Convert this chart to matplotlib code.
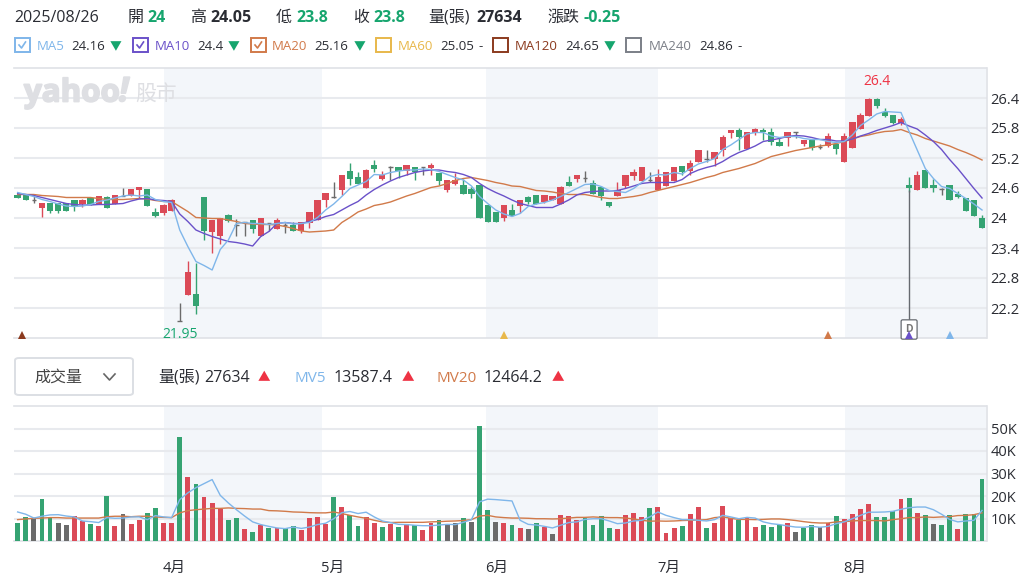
import matplotlib
matplotlib.use("Agg")
from matplotlib import pyplot as plt
from matplotlib import patheffects
from matplotlib.lines import Line2D
from matplotlib.patches import FancyBboxPatch, Rectangle
import numpy as np

FONT = ["Open Sans", "Noto Sans CJK TC", "DejaVu Sans"]
plt.rcParams["font.family"] = FONT

opens = [24.46,24.45,24.36,24.19,24.29,24.29,24.29,24.36,24.28,24.40,24.29,24.41,24.28,24.44,24.44,24.55,24.57,24.12,24.10,24.15,
         21.95,22.47,22.49,24.41,23.71,23.65,24.05,23.86,23.91,23.96,23.65,23.89,23.79,23.85,23.85,23.73,23.89,23.96,24.35,24.41,
         24.55,24.95,24.82,24.59,25.06,24.79,25.01,25.02,24.94,25.01,25.01,25.00,24.90,24.55,24.68,24.65,24.57,24.66,24.25,24.12,
         24.00,24.16,24.23,24.41,24.45,24.33,24.36,24.29,24.71,24.79,24.81,24.69,24.62,24.31,24.45,24.64,24.84,24.73,24.75,24.55,
         24.64,24.73,25.03,24.95,25.13,25.17,25.17,25.35,25.70,25.75,25.37,25.69,25.75,25.71,25.51,25.59,25.71,25.49,25.55,25.41,
         25.45,25.49,25.13,25.39,25.79,26.03,26.37,26.11,26.06,25.89,24.65,24.55,24.95,24.66,24.57,24.65,24.49,24.40,24.35,24.00]
closes = [24.40,24.35,24.36,24.29,24.14,24.14,24.15,24.24,24.36,24.25,24.45,24.19,24.45,24.44,24.57,24.61,24.24,24.03,24.25,24.35,
          21.95,22.91,22.24,23.74,23.96,24.00,23.95,23.86,23.91,23.79,24.00,23.89,23.96,23.85,23.74,23.91,24.11,24.36,24.49,24.41,
          24.86,24.79,24.67,24.95,24.99,24.85,25.01,24.94,25.06,24.91,25.01,25.06,24.73,24.75,24.75,24.48,24.48,24.00,23.91,23.91,
          24.25,24.03,24.36,24.33,24.28,24.45,24.45,24.61,24.64,24.85,24.81,24.49,24.44,24.24,24.56,24.85,24.91,25.01,24.75,24.82,
          24.91,25.01,24.93,25.11,25.36,25.17,25.31,25.61,25.75,25.62,25.72,25.77,25.71,25.51,25.45,25.72,25.71,25.56,25.40,25.41,
          25.65,25.38,25.65,25.91,26.06,26.37,26.23,26.03,25.89,25.97,24.59,24.86,24.59,24.59,24.57,24.35,24.43,24.15,24.03,23.80]
highs = [24.51,24.45,24.49,24.29,24.29,24.29,24.29,24.36,24.37,24.40,24.45,24.45,24.45,24.59,24.57,24.61,24.57,24.20,24.29,24.37,
         22.30,23.15,23.11,24.41,23.96,24.00,24.09,23.99,23.92,23.96,24.00,23.89,24.00,23.89,23.93,23.91,24.11,24.36,24.49,24.71,
         24.86,25.11,24.91,24.99,25.16,24.95,25.03,25.02,25.06,25.01,25.01,25.11,24.90,24.75,24.89,24.79,24.63,24.66,24.25,24.12,
         24.25,24.29,24.36,24.45,24.45,24.45,24.45,24.65,24.84,24.85,24.95,24.75,24.65,24.33,24.71,24.85,24.99,25.01,24.91,24.99,
         24.91,25.01,25.03,25.16,25.36,25.36,25.31,25.66,25.75,25.80,25.72,25.81,25.81,25.80,25.61,25.72,25.71,25.56,25.55,25.49,
         25.69,25.49,25.69,25.91,26.09,26.39,26.40,26.19,26.06,26.01,24.83,24.95,24.95,24.79,24.59,24.65,24.53,24.40,24.35,24.05]
lows = [24.40,24.35,24.31,24.01,24.11,24.11,24.15,24.15,24.22,24.25,24.29,24.19,24.28,24.44,24.44,24.40,24.24,24.01,24.05,24.15,
        21.95,22.46,22.09,23.56,23.31,23.49,23.91,23.65,23.65,23.69,23.65,23.75,23.79,23.69,23.74,23.69,23.81,23.96,24.21,24.39,
        24.47,24.66,24.67,24.59,24.91,24.75,24.75,24.81,24.86,24.76,24.85,24.85,24.66,24.51,24.66,24.48,24.39,24.00,23.91,23.91,
        23.95,24.03,24.11,24.28,24.28,24.31,24.36,24.29,24.64,24.71,24.71,24.48,24.35,24.22,24.45,24.59,24.76,24.73,24.71,24.55,
        24.64,24.73,24.86,24.86,25.13,25.13,25.04,25.24,25.60,25.36,25.37,25.66,25.56,25.46,25.45,25.45,25.61,25.45,25.36,25.37,
        25.41,25.29,25.12,25.39,25.79,26.03,26.19,26.01,25.88,25.86,24.51,24.55,24.59,24.51,24.46,24.35,24.40,24.15,24.03,23.80]

ma5 = [24.51,24.47,24.43,24.37,24.33,24.28,24.24,24.23,24.24,24.27,24.33,24.36,24.40,24.44,24.46,24.44,24.46,24.37,24.33,24.31,
       23.76,23.43,23.13,23.05,22.96,23.37,23.56,23.89,23.91,23.89,23.89,23.87,23.89,23.91,23.88,23.89,23.91,24.01,24.16,24.28,
       24.43,24.59,24.66,24.73,24.87,24.86,24.91,24.94,24.96,24.96,24.98,24.97,24.93,24.87,24.81,24.76,24.64,24.43,24.29,24.16,
       24.08,24.03,24.09,24.23,24.28,24.31,24.36,24.43,24.51,24.59,24.67,24.68,24.63,24.55,24.53,24.51,24.59,24.71,24.83,24.87,
       24.86,24.91,24.88,24.99,25.08,25.13,25.19,25.37,25.46,25.57,25.68,25.71,25.71,25.64,25.61,25.63,25.63,25.59,25.57,25.57,
       25.53,25.51,25.53,25.66,25.85,25.96,26.08,26.13,26.12,26.11,25.73,25.36,24.99,24.79,24.63,24.59,24.49,24.39,24.28,24.16]
ma10 = [24.49,24.47,24.45,24.41,24.37,24.33,24.29,24.27,24.26,24.26,24.27,24.27,24.28,24.29,24.34,24.38,24.39,24.36,24.35,24.33,
        24.08,23.93,23.76,23.69,23.63,23.58,23.53,23.51,23.48,23.44,23.63,23.73,23.89,23.91,23.89,23.89,23.93,23.97,24.03,24.07,
        24.16,24.25,24.33,24.46,24.57,24.66,24.74,24.81,24.86,24.91,24.94,24.96,24.96,24.93,24.91,24.87,24.81,24.69,24.59,24.51,
        24.44,24.36,24.29,24.25,24.21,24.21,24.21,24.28,24.36,24.46,24.51,24.53,24.54,24.54,24.55,24.59,24.64,24.69,24.71,24.71,
        24.71,24.71,24.77,24.89,24.96,25.01,25.05,25.13,25.23,25.31,25.37,25.44,25.53,25.56,25.59,25.63,25.65,25.64,25.61,25.57,
        25.57,25.54,25.54,25.58,25.64,25.69,25.75,25.80,25.85,25.91,25.84,25.78,25.66,25.53,25.37,25.17,24.99,24.79,24.59,24.40]
ma20 = [24.47,24.47,24.47,24.45,24.44,24.43,24.41,24.41,24.41,24.41,24.39,24.37,24.37,24.37,24.38,24.39,24.38,24.35,24.33,24.33,
        24.23,24.13,24.01,24.00,23.99,23.99,23.96,23.93,23.89,23.88,23.87,23.87,23.86,23.83,23.79,23.74,23.72,23.73,23.74,23.76,
        23.91,24.01,24.12,24.18,24.25,24.28,24.32,24.38,24.44,24.49,24.55,24.61,24.64,24.69,24.75,24.79,24.81,24.78,24.75,24.71,
        24.68,24.64,24.63,24.59,24.55,24.54,24.52,24.49,24.47,24.47,24.47,24.44,24.41,24.39,24.39,24.41,24.43,24.46,24.51,24.55,
        24.59,24.63,24.67,24.71,24.76,24.81,24.85,24.91,24.95,24.99,25.04,25.09,25.16,25.23,25.27,25.31,25.35,25.38,25.41,25.44,
        25.46,25.49,25.53,25.58,25.63,25.66,25.70,25.73,25.74,25.77,25.71,25.66,25.59,25.54,25.49,25.44,25.37,25.31,25.24,25.16]

volumes = [8160,10540,10090,18550,10540,8160,7270,11130,8760,7720,6680,20180,6680,12170,7720,9200,12610,14690,8160,8160,
           46150,28640,25230,19740,17070,14250,9200,10090,5190,4160,7120,5640,5640,5640,6680,4750,10090,10680,7720,19740,
           15140,11720,6680,10680,8160,6230,7720,6230,7720,7120,4750,8160,9200,7120,8160,10090,8610,51200,13650,8610,
           8160,7120,5640,5190,8160,6230,3120,11720,11130,9200,10090,7120,11130,5640,5190,11720,12610,10680,14690,15140,
           3710,5640,6680,12170,15140,5640,8160,15730,10090,9200,10090,6230,7120,6230,7120,8160,4160,5640,7120,6230,
           8160,11130,9650,12170,14100,16620,10680,10680,13210,18550,19140,12610,11720,7720,7120,11720,5190,12170,12170,27634]
vol_colors = list("ggkgg" "kkrrg" "rgrkr" "rggrr" "grgrr" "rggrg" "rgrgg" "rrrrg"
                  "rggrr" "grgrg" "rrgkk" "gkggk" "rgrkg" "rkrrr" "ggggr" "rrrgr"
                  "rrgrr" "grrrg" "rrggg" "rkggk" "rgrrr" "rgggr" "grgkg" "grggg")
mv5 = [12.9,11.9,10.2,11.0,11.6,11.7,11.1,10.7,8.9,8.6,8.2,10.4,10.1,10.2,10.7,10.7,9.5,11.3,10.7,10.4,
       18.4,21.4,23.7,25.5,27.3,20.3,16.9,13.9,11.1,8.5,7.3,6.5,5.8,5.5,6.2,5.6,6.2,7.3,7.9,9.9,
       12.6,13.1,12.2,12.8,10.7,8.9,8.2,7.4,7.3,7.0,6.8,6.8,7.1,7.4,7.3,8.3,9.5,17.4,18.6,18.4,
       18.1,17.8,9.2,7.4,7.1,6.5,5.8,7.0,8.2,8.5,9.6,9.9,9.9,8.9,7.7,8.0,8.9,9.2,10.7,12.9,
       11.4,10.4,9.5,9.5,9.2,8.9,9.5,11.4,10.7,9.9,10.5,10.2,8.5,7.7,7.3,6.7,6.2,6.1,6.5,6.1,
       6.5,7.7,8.5,9.9,11.4,12.8,12.8,12.9,13.2,14.1,14.8,15.1,15.1,13.9,11.9,9.6,8.5,8.9,9.2,13.6]
mv20 = [9.5,9.8,10.1,10.2,10.4,10.4,10.2,10.2,10.2,10.2,10.2,10.8,11.0,11.0,10.8,11.0,11.0,10.7,10.5,10.4,
        12.5,13.5,13.9,14.2,14.5,14.5,14.7,14.5,14.4,14.2,14.2,13.5,13.4,13.2,12.9,12.8,12.6,12.5,12.5,12.9,
        12.2,11.4,10.7,10.1,9.2,8.5,8.2,8.3,8.3,8.3,8.3,8.5,8.6,8.8,8.9,9.1,9.5,11.1,11.4,10.7,
        10.4,10.2,10.2,10.1,9.9,9.9,9.8,9.9,10.2,10.5,10.5,10.7,10.5,10.4,10.4,10.2,9.8,9.2,8.8,8.9,
        8.8,8.9,9.1,9.2,9.3,9.5,10.4,10.7,10.1,9.6,9.6,9.5,9.6,9.8,9.8,9.5,9.1,8.6,8.2,8.0,
        8.0,8.5,8.6,8.9,9.1,9.1,9.1,8.9,9.5,9.9,10.4,10.4,10.7,10.5,10.7,10.8,11.3,11.4,11.7,12.5]

price_ticks = [26.4, 25.8, 25.2, 24.6, 24, 23.4, 22.8, 22.2]
vol_ticks = [50000, 40000, 30000, 20000, 10000]
vol_labels = ["50K", "40K", "30K", "20K", "10K"]
month_ticks = [19.3, 38.9, 59.1, 80.4, 103.3]
month_labels = ["4月", "5月", "6月", "7月", "8月"]
shaded_months = [(18.1, 37.6), (57.8, 79.0), (102.1, 119.45)]
signal_idx = [0.5, 60, 100, 110, 115]

RED, GREEN, GRAY = "#db4a57", "#35a372", "#6b6b6b"
C5, C10, C20, C60, C120, C240 = "#7fb6ea", "#6a51c9", "#d17a4a", "#e8b84b", "#8b3a1e", "#7b7f87"
signal_colors = [C120, C60, C20, C10, C5]
GRID = "#e8eaee"
SHADE = "#f3f6fa"
TEXT = "#2a2c33"
UPTXT, DOWNTXT = "#ee3344", "#16a56e"
MARK = "#dedfe3"

W, H = 1029, 578
fig = plt.figure(figsize=(W / 100, H / 100), dpi=100)


def add_ax(x0, y0, x1, y1):
    return fig.add_axes([x0 / W, 1 - y1 / H, (x1 - x0) / W, (y1 - y0) / H])


def txt(x, y, s, size=10, color=TEXT, weight="normal", ha="left"):
    fig.text(x / W, 1 - y / H, s, fontsize=size, color=color, fontweight=weight,
             ha=ha, va="center_baseline", family=FONT)


def style_ax(ax):
    ax.set_xlim(-0.45, 119.55)
    ax.set_facecolor("white")
    ax.spines["left"].set_visible(False)
    for s in ["top", "right", "bottom"]:
        ax.spines[s].set_color("#dfe1e6")
        ax.spines[s].set_linewidth(1.2)
    ax.yaxis.tick_right()
    ax.tick_params(axis="y", length=0, pad=3, labelsize=10.5, labelcolor=TEXT)
    ax.grid(axis="y", color=GRID, lw=1.5, zorder=1)
    ax.set_axisbelow(True)
    for a, b in shaded_months:
        ax.axvspan(a, b, color=SHADE, lw=0, zorder=0)


x = np.arange(len(closes))

# price panel
ax = add_ax(14, 68, 986.5, 338)
style_ax(ax)
ax.set_ylim(21.6, 27.0)
ax.set_yticks(price_ticks)
ax.set_yticklabels(["26.4", "25.8", "25.2", "24.6", "24", "23.4", "22.8", "22.2"])
ax.set_xticks([])

for i in x:
    o, c = opens[i], closes[i]
    col = RED if c > o else GREEN if c < o else GRAY
    ax.vlines(i, lows[i], highs[i], color=col, lw=1.0, zorder=3)
    if c == o:
        ax.hlines(c, i - 0.28, i + 0.28, color=col, lw=1.0, zorder=3)
    else:
        ax.bar(i, abs(c - o), bottom=min(o, c), width=0.78, color=col, lw=0, zorder=3)

ax.plot(x, ma20, color=C20, lw=1.0, zorder=4)
ax.plot(x, ma10, color=C10, lw=1.0, zorder=4)
ax.plot(x, ma5, color=C5, lw=1.0, zorder=4)

# dividend flag
ax.vlines(110, 21.95, 24.55, color="#666a70", lw=1.0, zorder=3)
ax.text(110, 21.66, "D", ha="center", va="bottom", fontsize=7.5, color="#777", fontweight="bold",
        bbox=dict(boxstyle="round,pad=0.4,rounding_size=0.15", fc="white", ec="#666a70", lw=0.9), zorder=5, clip_on=False)
for xs, col in zip(signal_idx, signal_colors):
    ax.plot(xs, 21.66, marker="^", ms=5.5, color=col, mew=0, zorder=6, clip_on=False)

ax.annotate("26.4", (106.1, 26.4), xytext=(0, 12.2), textcoords="offset points", ha="center", va="center",
            fontsize=10, color=UPTXT)
ax.annotate("21.95", (20, 21.95), xytext=(0, -10), textcoords="offset points", ha="center", va="center",
            fontsize=10, color=DOWNTXT)

# watermark
heavy = [patheffects.withStroke(linewidth=1.3, foreground=MARK)]
fig.text(24 / W, 1 - 101.5 / H, "yahoo", fontsize=22.5, color=MARK, fontweight="bold", ha="left", va="baseline",
         family=["Open Sans"], zorder=0.5, path_effects=heavy)
fig.text(119 / W, 1 - 101 / H, "!", fontsize=24, color=MARK, fontweight="bold", style="italic", ha="left",
         va="baseline", family=["Open Sans"], zorder=0.5, path_effects=heavy)
fig.text(135 / W, 1 - 99.5 / H, "股市", fontsize=15, color=MARK, ha="left", va="baseline",
         family=["Noto Sans CJK TC"], zorder=0.5)

# volume panel
vax = add_ax(14, 406, 986.5, 541)
style_ax(vax)
vax.set_ylim(0, 60000)
vax.set_yticks(vol_ticks)
vax.set_yticklabels(vol_labels)
color_map = {"r": RED, "g": GREEN, "k": GRAY}
vax.bar(x, volumes, width=0.6, color=[color_map[c] for c in vol_colors], lw=0, zorder=3)
vax.plot(x, np.array(mv20) * 1000, color=C20, lw=1.0, zorder=4)
vax.plot(x, np.array(mv5) * 1000, color=C5, lw=1.0, zorder=4)
vax.set_xticks(month_ticks)
vax.set_xticklabels(month_labels)
vax.tick_params(axis="x", length=0, pad=14, labelsize=10.5, labelcolor=TEXT)

# header
row1 = [(14, "2025/08/26", TEXT, "normal"), (128, "開", TEXT, "normal"), (147, "24", DOWNTXT, "bold"),
        (190, "高", TEXT, "normal"), (210, "24.05", TEXT, "bold"), (276, "低", TEXT, "normal"),
        (296, "23.8", DOWNTXT, "bold"), (353, "收", TEXT, "normal"), (373, "23.8", DOWNTXT, "bold"),
        (428, "量(張)", TEXT, "normal"), (476, "27634", TEXT, "bold"), (547, "漲跌", TEXT, "normal"),
        (583, "-0.25", DOWNTXT, "bold")]
for px, s, col, w in row1:
    txt(px, 16, s, size=11.5, color=col, weight=w)

legend_row = [(15, 37, 71, "MA5", "24.16", 110, "▼", C5, True), (133, 155, 197, "MA10", "24.4", 228, "▼", C10, True),
              (251, 272, 314, "MA20", "25.16", 354, "▼", C20, True), (376, 398, 440, "MA60", "25.05", 478, "-", C60, False),
              (493, 515, 565, "MA120", "24.65", 604, "▼", C120, False), (626, 649, 699, "MA240", "24.86", 737, "-", C240, False)]
for bx, tx, vx, name, val, mx, mark, col, checked in legend_row:
    fig.add_artist(Rectangle((bx / W, 1 - 52 / H), 14.5 / W, 14 / H, transform=fig.transFigure, fill=False,
                             ec=col, lw=1.4))
    if checked:
        fig.add_artist(Line2D([(bx + 4) / W, (bx + 6.5) / W, (bx + 10.5) / W],
                              [1 - 45 / H, 1 - 48 / H, 1 - 42 / H], transform=fig.transFigure, color=col, lw=1.2))
    txt(tx, 45, name, size=9.5, color=col)
    txt(vx, 45, val, size=9.5)
    txt(mx, 45, mark, size=9.5 if mark == "-" else 8.5, color=DOWNTXT if mark != "-" else TEXT)

# indicator dropdown and values
fig.add_artist(FancyBboxPatch((15 / W, 1 - 395 / H), 118 / W, 37 / H, boxstyle="round,pad=0,rounding_size=0.004",
                              transform=fig.transFigure, fc="white", ec="#dcdfe4", lw=1.4))
txt(34, 376, "成交量", size=11.5, color="#444")
fig.add_artist(Line2D([104 / W, 109.5 / W, 115 / W], [1 - 374 / H, 1 - 380 / H, 1 - 374 / H],
                      transform=fig.transFigure, color="#666", lw=1.2))
row2 = [(158, "量(張)", TEXT, 11.5), (204, "27634", TEXT, 11.5), (258, "▲", UPTXT, 9), (295, "MV5", C5, 11),
        (334, "13587.4", TEXT, 11.5), (402, "▲", UPTXT, 9), (436, "MV20", C20, 11), (484, "12464.2", TEXT, 11.5),
        (552, "▲", UPTXT, 9)]
for px, s, col, sz in row2:
    txt(px, 376, s, size=sz, color=col)

fig.savefig("out.png", dpi=100)
